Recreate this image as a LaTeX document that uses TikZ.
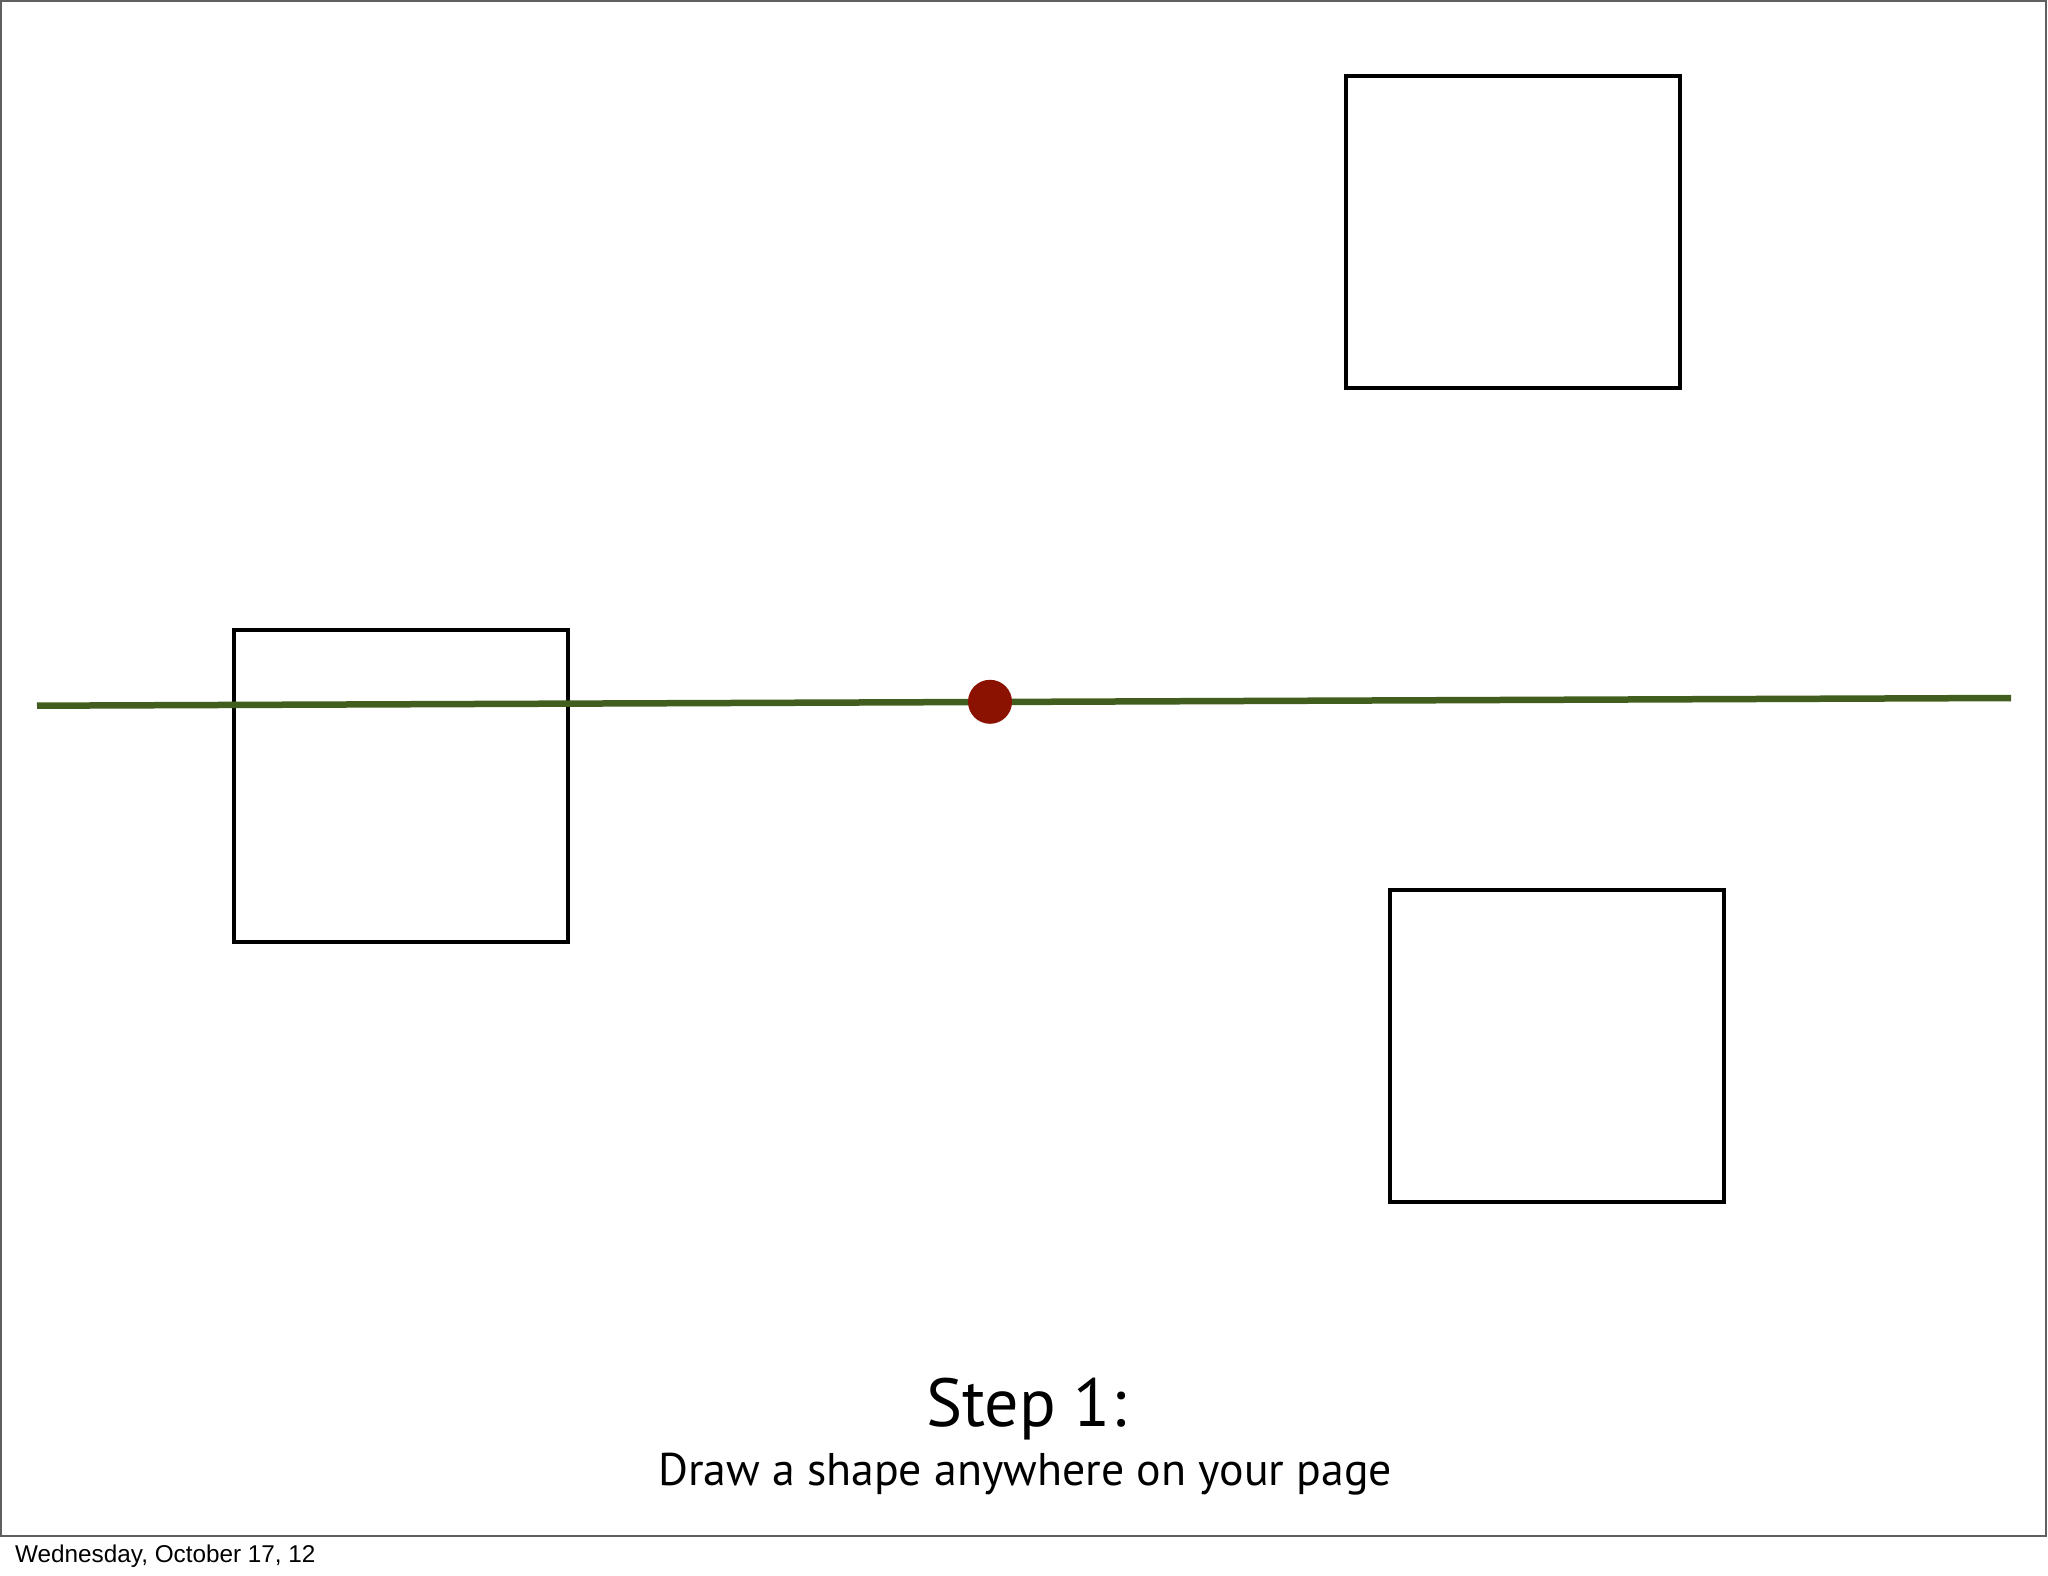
\documentclass[tikz,border=0pt]{standalone}
\usepackage{fontspec}
\setmainfont{PT Sans}
\newfontfamily\datefont{Liberation Sans}
\definecolor{linegreen}{RGB}{66,94,30}
\definecolor{dotred}{RGB}{139,17,0}
\definecolor{framegrey}{RGB}{96,96,96}
\begin{document}
\begin{tikzpicture}[x=1pt,y=-1pt,
  sqbox/.style={draw=black, line width=4pt, minimum width=334pt, minimum height=312pt, inner sep=0pt},
  dotstyle/.style={circle, fill=dotred, minimum size=44pt, inner sep=0pt},
  greenline/.style={draw=linegreen, line width=6.5pt}]
\useasboundingbox (0,0) rectangle (2048,1576);
\fill[white] (0,0) rectangle (2048,1576);
\draw[framegrey, line width=2pt] (1,1) rectangle (2046,1536);
\node[sqbox] (sqtop) at (1513,232) {};
\node[sqbox] (sqleft) at (401,786) {};
\node[sqbox] (sqbot) at (1557,1046) {};
\coordinate (lstart) at (37,705.7);
\coordinate (lend) at (2011,698);
\draw[greenline] (lstart) -- (lend);
\node[dotstyle] (dot) at (990,701.8) {};
\node[anchor=base, inner sep=0pt, font=\fontsize{68}{76}\selectfont] (title) at (1026,1426) {Step 1:};
\node[anchor=base, inner sep=0pt, font=\fontsize{45.8}{52}\selectfont] (sub) at (1025,1485) {Draw a shape anywhere on your page};
\node[anchor=base west, inner sep=0pt, font=\datefont\fontsize{24.3}{28}\selectfont] (date) at (15,1562) {Wednesday, October 17, 12};
\end{tikzpicture}
\end{document}
